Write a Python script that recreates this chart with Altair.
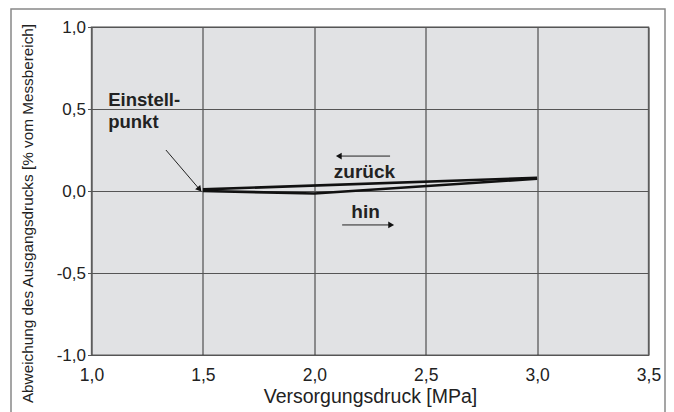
import altair as alt
import pandas as pd

# Data
hin_x = [1.5, 2.0, 3.0]
hin_y = [0.0, -0.015, 0.075]
zur_x = [1.5, 3.0]
zur_y = [0.01, 0.08]

x_ticks = [1.0, 1.5, 2.0, 2.5, 3.0, 3.5]
y_ticks = [-1.0, -0.5, 0.0, 0.5, 1.0]

labels_text = ["Einstell-", "punkt", "zurück", "hin"]
labels_x = [1.075, 1.075, 2.225, 2.23]
labels_y = [0.555, 0.42, 0.115, -0.128]

# arrows: (x1, y1) -> (x2, y2)
arr_x1 = [2.34, 2.125, 1.334]
arr_y1 = [0.213, -0.207, 0.25]
arr_x2 = [2.11, 2.345, 1.485]
arr_y2 = [0.213, -0.207, 0.01]
arr_angle = [180, 0, 50]

lines = pd.DataFrame(
    [{"x": x, "y": y, "s": "hin", "o": i} for i, (x, y) in enumerate(zip(hin_x, hin_y))]
    + [{"x": x, "y": y, "s": "zurück", "o": i} for i, (x, y) in enumerate(zip(zur_x, zur_y))]
)
txt = pd.DataFrame({"t": labels_text, "x": labels_x, "y": labels_y})
arr = pd.DataFrame({"x1": arr_x1, "y1": arr_y1, "x2": arr_x2, "y2": arr_y2, "ang": arr_angle})

FONT = "Liberation Sans"

lab = "replace(format(abs(datum.value), '.1f'), '.', ',')"
ylab = "(datum.value < 0 ? '-' : '') + " + lab

xs = alt.Scale(domain=[1.0, 3.5], nice=False, zero=False)
ys = alt.Scale(domain=[-1.0, 1.0], nice=False, zero=False)

xax = alt.Axis(values=x_ticks, labelExpr=lab, title="Versorgungsdruck [MPa]",
               grid=True, gridColor="#333333", gridWidth=1, ticks=False,
               domain=False, labelFontSize=17.5, labelColor="#222", titleFontSize=19.5,
               titleFontWeight="normal", titleColor="#222", labelPadding=11,
               titlePadding=4, labelFont=FONT, titleFont=FONT, labelFlush=False)
yax = alt.Axis(values=y_ticks, labelExpr=ylab,
               title="Abweichung des Ausgangsdrucks [% vom Messbereich]",
               grid=True, gridColor="#555555", gridWidth=1, ticks=True, tickSize=4,
               tickColor="#555", domain=False, labelFontSize=17, labelColor="#222",
               titleFontSize=15.3, titleFontWeight="normal", titleColor="#222",
               labelPadding=2, titleFont=FONT, labelFont=FONT,
               titleX=-64, titleY=186, titleBaseline="middle")

frame = alt.Chart(pd.DataFrame({"k": [0]})).mark_rect(
    fill=None, stroke="#888888", strokeWidth=1.5, clip=False
).encode(x=alt.value(-80.5), x2=alt.value(573.5), y=alt.value(-18), y2=alt.value(420))

line_chart = alt.Chart(lines).mark_line(color="#111111", strokeWidth=2.6).encode(
    x=alt.X("x:Q", scale=xs, axis=xax),
    y=alt.Y("y:Q", scale=ys, axis=yax),
    detail="s:N",
    order="o:Q",
)

text_left = alt.Chart(txt.iloc[:2]).mark_text(
    fontWeight="bold", fontSize=18.5, color="#222", font=FONT, baseline="middle", align="left"
).encode(x="x:Q", y="y:Q", text="t:N")
text_center = alt.Chart(txt.iloc[2:]).mark_text(
    fontWeight="bold", fontSize=19, color="#222", font=FONT, baseline="middle", align="center"
).encode(x="x:Q", y="y:Q", text="t:N")

arr_lines = alt.Chart(arr).mark_rule(color="#222", strokeWidth=1).encode(
    x="x1:Q", y="y1:Q", x2="x2:Q", y2="y2:Q"
)
arr_heads = alt.Chart(arr).mark_point(
    shape="triangle-right", filled=True, color="#111", size=45, opacity=1
).encode(x="x2:Q", y="y2:Q", angle=alt.Angle("ang:Q", scale=None))

chart = alt.layer(
    frame, line_chart, arr_lines, arr_heads, text_left, text_center
).properties(
    width=557, height=328,
    autosize=alt.AutoSizeParams(type="none"),
    padding={"left": 83.5, "top": 19, "right": 17.5, "bottom": 58},
    background="white",
).configure_view(
    fill="#e1e2e4", stroke="#888888", strokeWidth=1.5
)

chart.save("out.html", embed_options={"renderer": "svg", "actions": False})
